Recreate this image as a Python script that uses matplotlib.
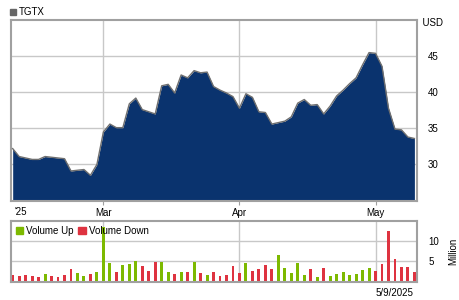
"""TGTX daily close with volume, Feb 10 - May 9 2025."""

import matplotlib

matplotlib.use("Agg")
import matplotlib.pyplot as plt
from matplotlib.patches import Patch, Rectangle
import numpy as np

plt.rcParams["font.family"] = ["Liberation Sans", "DejaVu Sans"]

# trading-day close prices (USD)
PRICES = [
    32.2, 31.1, 30.9, 30.7, 30.7, 31.1, 31.0, 30.9, 30.8, 29.1,
    29.2, 29.3, 28.5, 30.0, 34.5, 35.6, 35.1, 35.1, 38.4, 39.2,
    37.6, 37.3, 37.0, 40.9, 41.1, 39.9, 42.4, 42.0, 43.0, 42.7,
    42.8, 40.8, 40.3, 39.9, 39.4, 37.8, 39.8, 39.3, 37.3, 37.2,
    35.6, 35.8, 36.0, 36.6, 38.5, 39.0, 38.2, 38.3, 37.0, 38.1,
    39.5, 40.3, 41.2, 42.0, 43.8, 45.5, 45.4, 43.6, 37.8, 34.9,
    34.8, 33.8, 33.6,
]
# volume in millions, with up (1) / down (0) flag
VOLUMES = [
    1.6, 1.4, 1.7, 1.4, 1.2, 1.9, 1.4, 1.2, 1.7, 3.1,
    2.1, 1.4, 1.9, 2.4, 13.4, 4.5, 2.4, 4.0, 4.3, 5.0,
    3.9, 2.7, 4.8, 4.8, 2.4, 1.9, 2.4, 2.4, 4.8, 2.2,
    1.7, 2.4, 1.5, 1.7, 3.9, 2.2, 4.6, 2.7, 3.1, 4.1,
    3.1, 6.5, 3.4, 2.2, 4.6, 1.7, 3.1, 1.2, 3.4, 1.5,
    1.9, 2.4, 1.7, 1.9, 2.9, 3.4, 2.7, 4.4, 12.3, 5.6,
    3.6, 3.6, 2.4,
]
UP_DAYS = [
    0, 0, 0, 0, 0, 1, 0, 0, 0, 0,
    1, 1, 0, 1, 1, 1, 0, 1, 1, 1,
    0, 0, 0, 1, 1, 0, 1, 0, 1, 0,
    1, 0, 0, 0, 0, 0, 1, 0, 0, 0,
    0, 1, 1, 1, 1, 1, 0, 1, 0, 1,
    1, 1, 1, 1, 1, 1, 0, 0, 0, 0,
    0, 0, 0,
]
MONTH_TICKS = [14, 35, 56]
MONTH_LABELS = ["Mar", "Apr", "May"]
PRICE_TICKS = [30, 35, 40, 45]
VOLUME_TICKS = [5, 10]
SYMBOL = "TGTX"
LAST_DATE = "5/9/2025"

NAVY = "#0a336e"
GREEN = "#7db900"
RED = "#de3340"
GRID = "#c8c8c8"
SPINE = "#a0a0a0"


def style_axis(axis):
  axis.set_xlim(-0.26, 62.4)
  axis.set_xticks(MONTH_TICKS)
  axis.grid(True, color=GRID, linewidth=1.0)
  axis.set_axisbelow(True)
  axis.yaxis.tick_right()
  axis.tick_params(axis="y", length=0, pad=8, labelsize=7)
  axis.tick_params(axis="x", length=3, color=SPINE, labelsize=7, pad=2)
  for spine in axis.spines.values():
    spine.set_color(SPINE)
    spine.set_linewidth(1.5)


def main():
  days = np.arange(len(PRICES))
  figure = plt.figure(figsize=(4.6, 3.0), dpi=100)
  price_axis = figure.add_axes([0.0239, 0.33, 0.8826, 0.603])
  volume_axis = figure.add_axes([0.0239, 0.06, 0.8826, 0.204])

  style_axis(price_axis)
  bottom = 24.94
  price_axis.fill_between(days, bottom, PRICES, color=NAVY, linewidth=0,
                          zorder=2)
  price_axis.plot(days, PRICES, color="#6f6f6f", linewidth=1.0, zorder=3)
  price_axis.set_ylim(bottom, 50.0)
  price_axis.set_yticks(PRICE_TICKS)
  price_axis.set_xticklabels(MONTH_LABELS)
  price_axis.text(1.0, 0.985, "  USD", transform=price_axis.transAxes,
                  fontsize=7, ha="left", va="center")
  price_axis.text(0.008, -0.06, "'25", transform=price_axis.transAxes,
                  fontsize=7, ha="left", va="center")

  style_axis(volume_axis)
  colors = [GREEN if up else RED for up in UP_DAYS]
  volume_axis.bar(days, VOLUMES, width=0.45, color=colors, zorder=2)
  volume_axis.set_ylim(0, 14.8)
  volume_axis.set_yticks(VOLUME_TICKS)
  volume_axis.set_xticklabels([])
  volume_axis.tick_params(axis="x", length=0)
  volume_axis.set_ylabel("Million", fontsize=7, rotation=90, labelpad=7)
  volume_axis.yaxis.set_label_position("right")
  volume_axis.legend(
      handles=[Patch(color=GREEN, label="Volume Up"),
               Patch(color=RED, label="Volume Down")],
      loc="upper left", ncol=2, frameon=False, fontsize=7,
      handlelength=0.75, handleheight=0.75, handletextpad=0.3,
      columnspacing=0.5, borderaxespad=0.3, borderpad=0.2,
  )
  volume_axis.text(0.99, -0.18, LAST_DATE, transform=volume_axis.transAxes,
                   fontsize=7, ha="right", va="center")

  figure.patches.append(Rectangle((10 / 460, 1 - 15 / 300), 6 / 460, 6 / 300,
                                  transform=figure.transFigure,
                                  color="#666666"))
  figure.text(19 / 460, 1 - 12 / 300, SYMBOL, fontsize=7, ha="left",
              va="center")

  figure.savefig("out.png", dpi=100)
  plt.close(figure)


if __name__ == "__main__":
  main()
